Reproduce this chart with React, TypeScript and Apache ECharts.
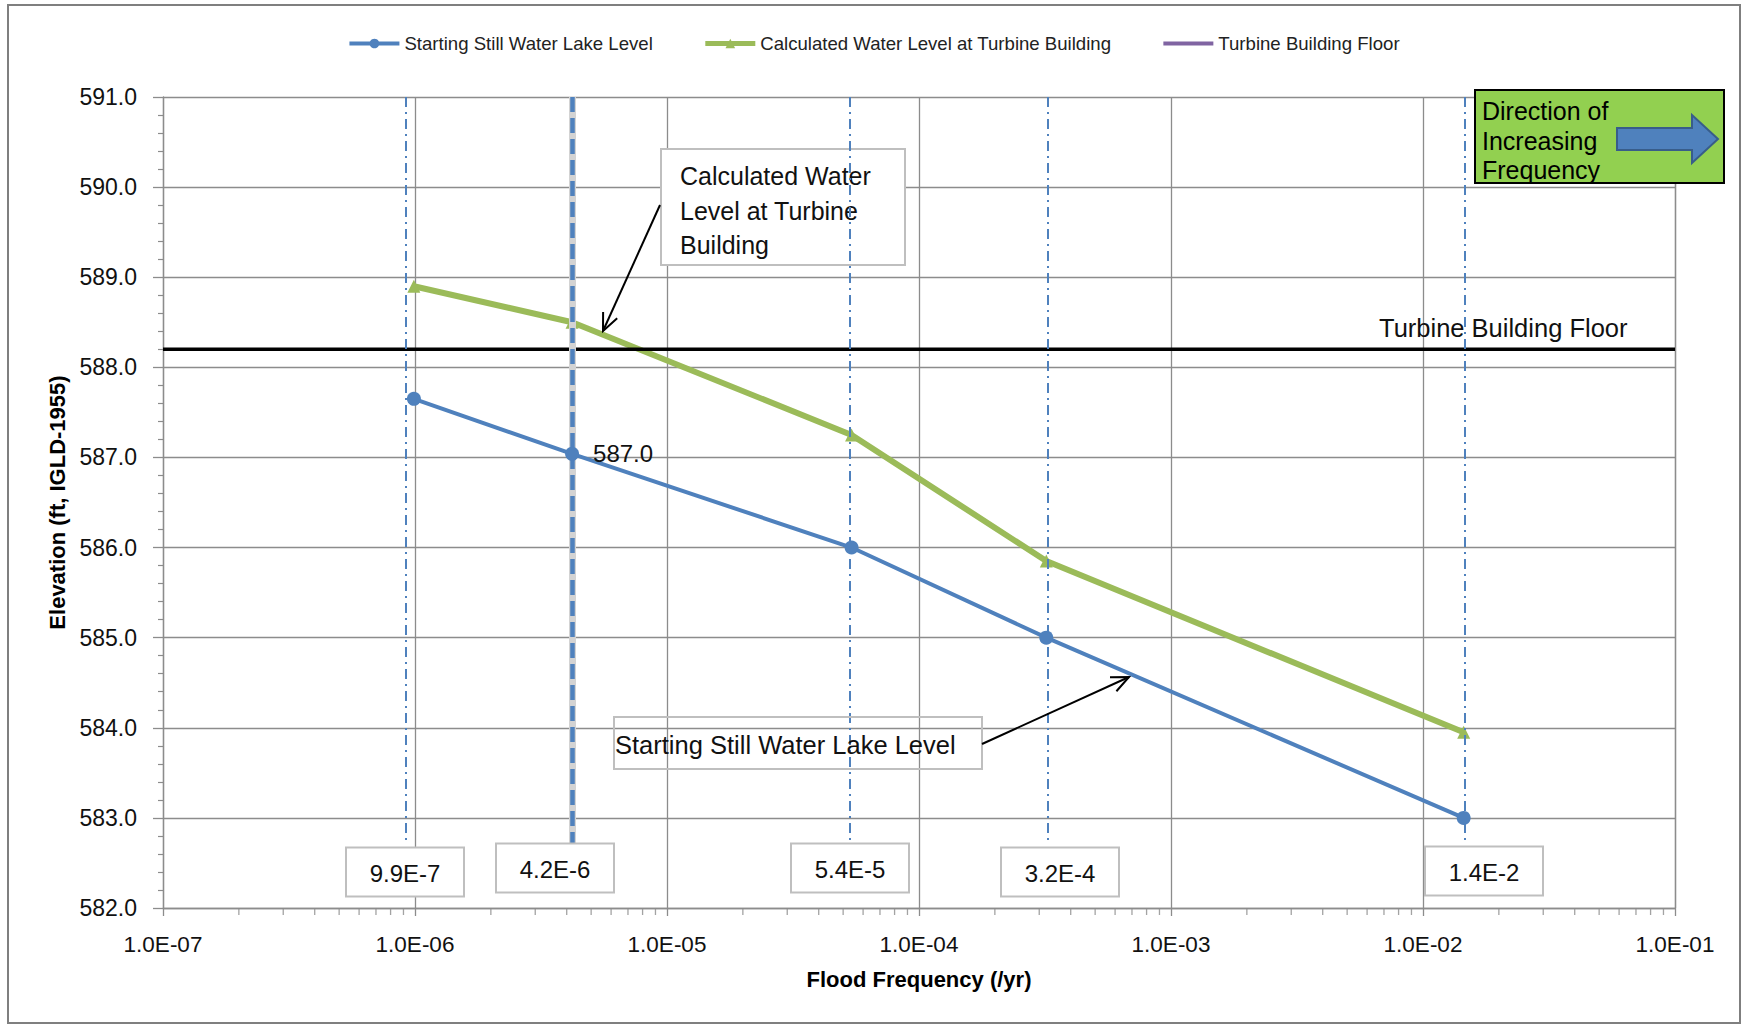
import React, { useEffect, useRef } from "react";
import * as echarts from "echarts";

// ---------- data ----------
const seriesNames = [
  "Starting Still Water Lake Level",
  "Calculated Water Level at Turbine Building",
  "Turbine Building Floor",
];
const frequencies = [9.9e-7, 4.2e-6, 5.4e-5, 3.2e-4, 1.45e-2];
const stillWaterLevel = [587.65, 587.04, 586.0, 585.0, 583.0];
const calculatedLevel = [588.9, 588.5, 587.25, 585.85, 583.95];
const turbineFloorLevel = 588.2;
const guideFrequencies = [9.2e-7, 4.2e-6, 5.3e-5, 3.25e-4, 1.46e-2];
const guideLabels = ["9.9E-7", "4.2E-6", "5.4E-5", "3.2E-4", "1.4E-2"];
const highlightedGuide = 1;
const guideBottomLevel = 582.7;
const labelledPointIndex = 1;
const xMin = 1e-7;
const xMax = 1e-1;
const yMin = 582;
const yMax = 591;
const yStep = 1;
const minorMantissas = [2, 3, 4, 5, 6, 7, 8, 9];
const decadeExponents = [-7, -6, -5, -4, -3, -2];

// ---------- layout / style ----------
const FONT = "'Liberation Sans', Arial, Helvetica, sans-serif";
const BLUE = "#4F81BD";
const GREEN = "#9BBB59";
const PURPLE = "#8064A2";
const GRID_GRAY = "#8C8C8C";
const BOX_GRAY = "#BFBFBF";
const TEXT = "#111111";

const guideBoxCenters = [
  [405, 872],
  [555, 868],
  [850, 868],
  [1060, 872],
  [1484, 871],
];
const guideBoxSize = [118, 49];

const fmtSci = (v: number) => {
  const e = Math.round(Math.log10(v));
  const m = v / Math.pow(10, e);
  return `${m.toFixed(1)}E${e < 0 ? "-" : "+"}${String(Math.abs(e)).padStart(2, "0")}`;
};

function arrow(x1: number, y1: number, x2: number, y2: number, z: number) {
  const dx = x2 - x1;
  const dy = y2 - y1;
  const len = Math.hypot(dx, dy);
  const ux = dx / len;
  const uy = dy / len;
  const L = 19;
  const a = (24 * Math.PI) / 180;
  const wing = (ang: number) => [
    x2 - L * (ux * Math.cos(ang) - uy * Math.sin(ang)),
    y2 - L * (ux * Math.sin(ang) + uy * Math.cos(ang)),
  ];
  return [
    {
      type: "line",
      z,
      shape: { x1, y1, x2, y2 },
      style: { stroke: "#000", lineWidth: 2 },
    },
    {
      type: "polyline",
      z,
      shape: { points: [wing(a), [x2, y2], wing(-a)] },
      style: { stroke: "#000", fill: null, lineWidth: 2 },
    },
  ];
}

function buildOption() {
  const minorTicks = decadeExponents.flatMap((e) =>
    minorMantissas.map((m) => [m * Math.pow(10, e), yMin])
  );

  const guideLines: any[] = [];
  guideFrequencies.forEach((f, i) => {
    if (i === highlightedGuide) {
      guideLines.push([
        { coord: [f, yMax], lineStyle: { color: "#D3D3D3", width: 7, type: "solid" } },
        { coord: [f, guideBottomLevel] },
      ]);
      guideLines.push([
        { coord: [f, yMax], lineStyle: { color: BLUE, width: 4.5, type: [15, 6] } },
        { coord: [f, guideBottomLevel] },
      ]);
    } else {
      guideLines.push([
        { coord: [f, yMax], lineStyle: { color: BLUE, width: 2, type: [10, 5, 2, 5] } },
        { coord: [f, guideBottomLevel] },
      ]);
    }
  });

  const graphics: any[] = [
    {
      type: "rect",
      z: 0,
      shape: { x: 8, y: 5, width: 1732, height: 1018 },
      style: { fill: null, stroke: "#7F7F7F", lineWidth: 2 },
    },
    // Annotation: calculated water level
    {
      type: "rect",
      z: 1,
      shape: { x: 661, y: 149, width: 244, height: 116 },
      style: { fill: "#fff", stroke: BOX_GRAY, lineWidth: 2 },
    },
    {
      type: "text",
      z: 1,
      x: 680,
      y: 159,
      style: {
        text: "Calculated Water\nLevel at Turbine\nBuilding",
        fontSize: 25,
        fontFamily: FONT,
        fill: TEXT,
        align: "left",
        verticalAlign: "top",
        lineHeight: 34.5,
      },
    },
    ...arrow(660, 205, 603, 331, 12),
    // Annotation: starting still water
    {
      type: "rect",
      z: 12,
      shape: { x: 614, y: 717, width: 368, height: 52 },
      style: { fill: null, stroke: BOX_GRAY, lineWidth: 2 },
    },
    {
      type: "text",
      z: 12,
      x: 615,
      y: 745,
      style: {
        text: "Starting Still Water Lake Level",
        fontSize: 25.5,
        fontFamily: FONT,
        fill: TEXT,
        align: "left",
        verticalAlign: "middle",
      },
    },
    ...arrow(982, 744, 1129, 677, 12),
    // Turbine building floor label
    {
      type: "text",
      z: 12,
      x: 1379,
      y: 328,
      style: {
        text: "Turbine Building Floor",
        fontSize: 25.5,
        fontFamily: FONT,
        fill: TEXT,
        align: "left",
        verticalAlign: "middle",
      },
    },
    // Direction box
    {
      type: "rect",
      z: 20,
      shape: { x: 1475, y: 90, width: 249, height: 93 },
      style: { fill: "#92D050", stroke: "#000", lineWidth: 2 },
    },
    {
      type: "text",
      z: 21,
      x: 1482,
      y: 96,
      style: {
        text: "Direction of\nIncreasing\nFrequency",
        fontSize: 25,
        fontFamily: FONT,
        fill: "#000",
        align: "left",
        verticalAlign: "top",
        lineHeight: 29.7,
      },
    },
    {
      type: "polygon",
      z: 21,
      shape: {
        points: [
          [1617, 128],
          [1692, 128],
          [1692, 115],
          [1718, 139],
          [1692, 163],
          [1692, 150],
          [1617, 150],
        ],
      },
      style: { fill: BLUE, stroke: "#385D8A", lineWidth: 2 },
    },
  ];

  guideLabels.forEach((t, i) => {
    const [cx, cy] = guideBoxCenters[i];
    const [w, h] = guideBoxSize;
    graphics.push({
      type: "rect",
      z: 20,
      shape: { x: cx - w / 2, y: cy - h / 2, width: w, height: h },
      style: { fill: "#fff", stroke: BOX_GRAY, lineWidth: 2 },
    });
    graphics.push({
      type: "text",
      z: 21,
      x: cx,
      y: cy + 1,
      style: {
        text: t,
        fontSize: 24,
        fontFamily: FONT,
        fill: TEXT,
        align: "center",
        verticalAlign: "middle",
      },
    });
  });

  return {
    animation: false,
    backgroundColor: "#ffffff",
    textStyle: { fontFamily: FONT },
    grid: { left: 163, right: 72, top: 97, bottom: 117, containLabel: false },
    legend: {
      top: 29,
      left: "center",
      itemWidth: 50,
      itemHeight: 12,
      itemGap: 50,
      textStyle: { fontSize: 18.6, fontFamily: FONT, color: "#222" },
      data: [
        { name: seriesNames[0], lineStyle: { color: BLUE, width: 4 } },
        { name: seriesNames[1], lineStyle: { color: GREEN, width: 5 } },
        {
          name: seriesNames[2],
          itemStyle: { color: PURPLE, opacity: 0 },
          lineStyle: { color: PURPLE, width: 4 },
        },
      ],
    },
    xAxis: {
      type: "log",
      logBase: 10,
      min: xMin,
      max: xMax,
      splitNumber: 6,
      name: "Flood Frequency (/yr)",
      nameLocation: "middle",
      nameGap: 60,
      nameTextStyle: { fontSize: 22, fontWeight: "bold", fontFamily: FONT, color: "#000" },
      axisLine: { show: true, lineStyle: { color: GRID_GRAY, width: 1.3 } },
      axisTick: { show: true, length: 8, lineStyle: { color: GRID_GRAY, width: 1.3 } },
      axisLabel: {
        fontSize: 22.5,
        fontFamily: FONT,
        color: "#111",
        margin: 25,
        formatter: (v: number) => fmtSci(v),
      },
      splitLine: { show: true, lineStyle: { color: GRID_GRAY, width: 1.3 } },
    },
    yAxis: {
      type: "value",
      min: yMin,
      max: yMax,
      interval: yStep,
      name: "Elevation (ft, IGLD-1955)",
      nameLocation: "middle",
      nameGap: 92,
      nameTextStyle: { fontSize: 22, fontWeight: "bold", fontFamily: FONT, color: "#000" },
      axisLine: { show: true, lineStyle: { color: GRID_GRAY, width: 1.3 } },
      axisTick: { show: true, length: 10, lineStyle: { color: GRID_GRAY, width: 1.3 } },
      minorTick: { show: true, splitNumber: 5, length: 5, lineStyle: { color: GRID_GRAY, width: 1.2 } },
      axisLabel: {
        fontSize: 23,
        fontFamily: FONT,
        color: "#111",
        margin: 26,
        formatter: (v: number) => v.toFixed(1),
      },
      splitLine: { show: true, lineStyle: { color: GRID_GRAY, width: 1.3 } },
    },
    series: [
      {
        name: seriesNames[0],
        type: "line",
        z: 6,
        color: BLUE,
        symbol: "circle",
        symbolSize: 14,
        lineStyle: { color: BLUE, width: 4 },
        itemStyle: { color: BLUE },
        data: frequencies.map((f, i) =>
          i === labelledPointIndex
            ? {
                value: [f, stillWaterLevel[i]],
                label: {
                  show: true,
                  position: "right",
                  distance: 14,
                  fontSize: 24,
                  fontFamily: FONT,
                  color: TEXT,
                  formatter: (p: any) => Number(p.value[1]).toFixed(1),
                },
              }
            : [f, stillWaterLevel[i]]
        ),
      },
      {
        name: seriesNames[1],
        type: "line",
        z: 3,
        color: GREEN,
        symbol: "triangle",
        symbolSize: 13,
        lineStyle: { color: GREEN, width: 6 },
        itemStyle: { color: GREEN },
        data: frequencies.map((f, i) => [f, calculatedLevel[i]]),
      },
      {
        name: seriesNames[2],
        type: "line",
        z: 3,
        color: PURPLE,
        symbol: "none",
        lineStyle: { color: "#000", width: 3.5 },
        data: [
          [xMin, turbineFloorLevel],
          [xMax, turbineFloorLevel],
        ],
        markLine: {
          silent: true,
          symbol: ["none", "none"],
          label: { show: false },
          z: 5,
          data: guideLines,
        },
      },
      {
        name: "xMinorTicks",
        type: "scatter",
        silent: true,
        clip: false,
        z: 1,
        symbol: "rect",
        symbolSize: [1.3, 7],
        symbolOffset: [0, 3.5],
        itemStyle: { color: GRID_GRAY },
        data: minorTicks,
      },
    ],
    graphic: graphics,
  };
}

export default function App() {
  const ref = useRef<HTMLDivElement>(null);
  useEffect(() => {
    document.body.style.margin = "0";
    document.body.style.overflow = "hidden";
    const chart = echarts.init(ref.current!, undefined, { renderer: "svg" });
    chart.setOption(buildOption() as any);
    return () => chart.dispose();
  }, []);
  return <div ref={ref} style={{ width: 1747, height: 1025 }} />;
}
